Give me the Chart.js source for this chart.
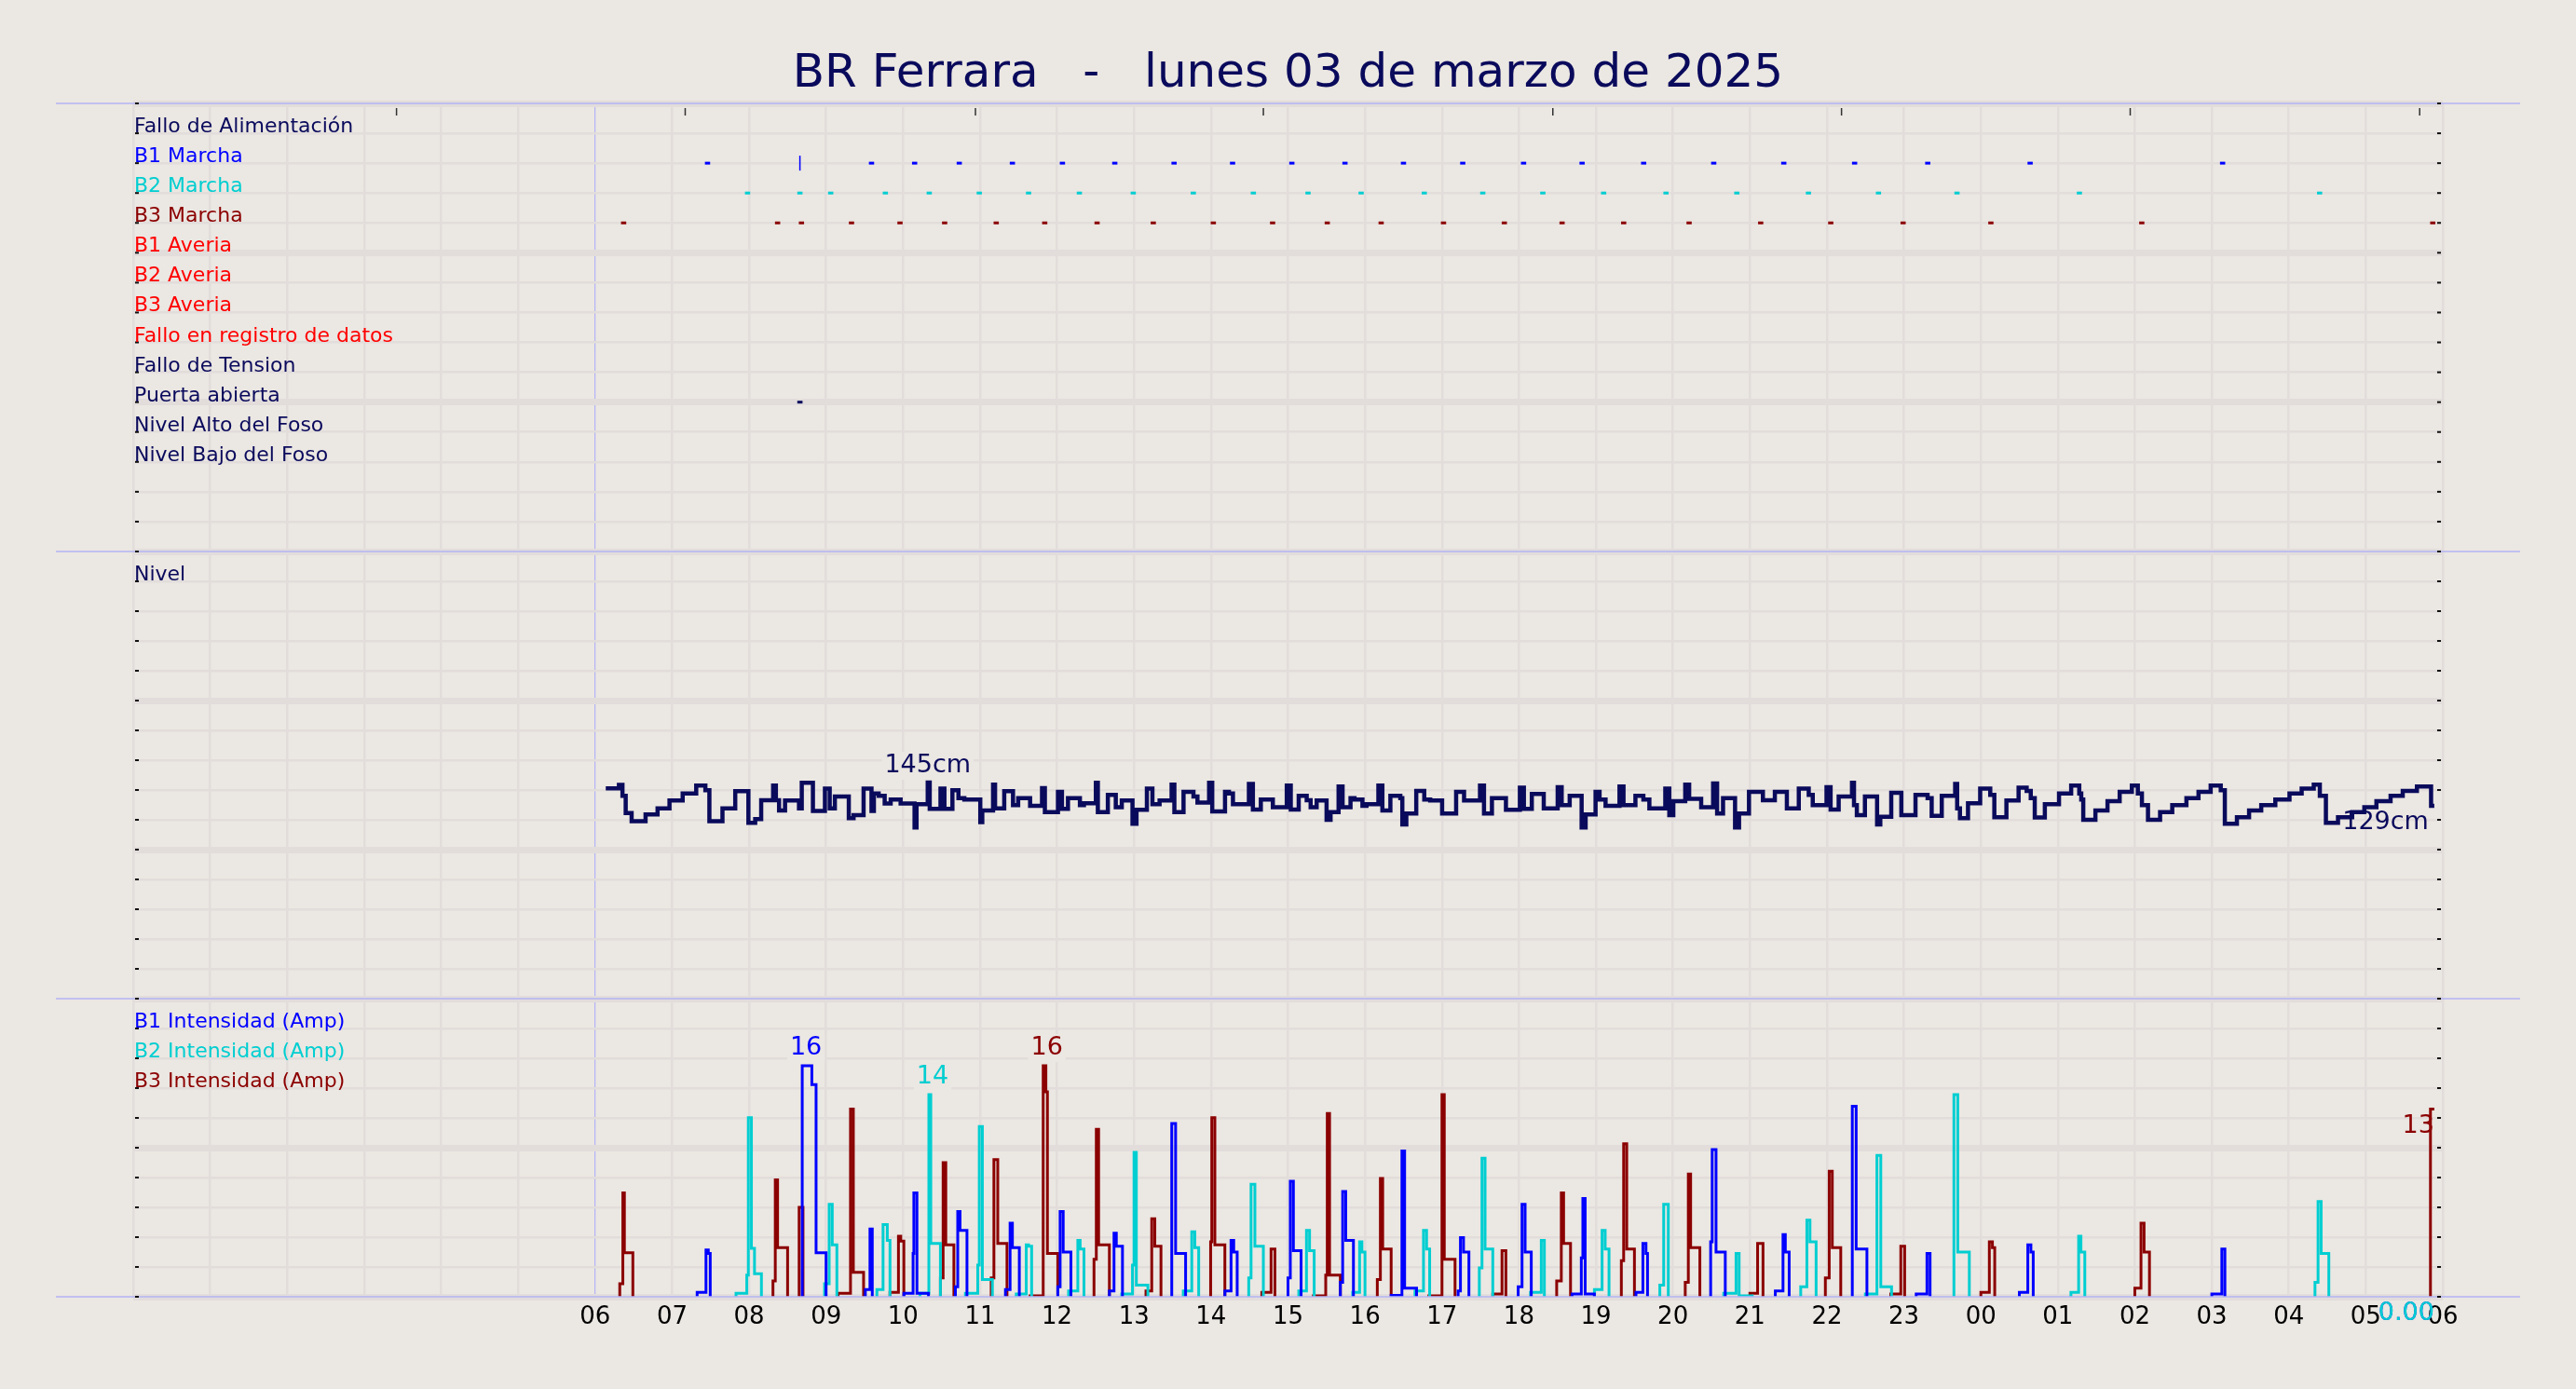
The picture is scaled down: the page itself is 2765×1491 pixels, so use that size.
<!DOCTYPE html>
<html>
<head>
<meta charset="utf-8">
<title>BR Ferrara</title>
<script src="https://cdn.jsdelivr.net/npm/chart.js@4.4.1/dist/chart.umd.min.js"></script>
<style>
  html, body { margin: 0; padding: 0; background: #ebe7e2; }
  canvas { display: block; background: #ebe7e2; }
</style>
</head>
<body>
<canvas id="chart" width="2765" height="1491"></canvas>
<script>
"use strict";

const title = "BR Ferrara   -   lunes 03 de marzo de 2025";

// hours on the x axis run from 0 to 30, labels start at 06
const firstLabelHour = 6;
const hourLabels = ["06", "07", "08", "09", "10", "11", "12", "13", "14", "15", "16", "17", "18",
    "19", "20", "21", "22", "23", "00", "01", "02", "03", "04", "05", "06"];
const topTickHours = [3.42, 7.17, 10.94, 14.68, 18.44, 22.19, 25.94, 29.70];

const eventRows = ["Fallo de Alimentación", "B1 Marcha", "B2 Marcha", "B3 Marcha", "B1 Averia", "B2 Averia",
    "B3 Averia", "Fallo en registro de datos", "Fallo de Tension", "Puerta abierta", "Nivel Alto del Foso",
    "Nivel Bajo del Foso"];

const NAVY = "#0a0a5c";
const BLUE = "#0000ff";
const CYAN = "#00ced1";
const DARKRED = "#8b0000";
const RED = "#ff0000";
const BG = "#ebe7e2";
const GRID = "#e2dddb";
const FRAME = "#b3b3f5";
const FONT = '"DejaVu Sans", sans-serif';

const eventColors = [NAVY, BLUE, CYAN, DARKRED, RED, RED, RED, RED, NAVY, NAVY, NAVY, NAVY];

const b1Marcha = [7.46, 9.59, 10.15, 10.73, 11.42, 12.07, 12.75, 13.52, 14.28, 15.05, 15.74, 16.50, 17.27,
    18.06, 18.82, 19.62, 20.53, 21.44, 22.36, 23.31, 24.64, 27.14];
const b1MarchaSpike = [8.66];
const b2Marcha = [7.98, 8.66, 9.06, 9.77, 10.34, 10.99, 11.63, 12.29, 12.99, 13.77, 14.55, 15.26, 15.95,
    16.77, 17.53, 18.31, 19.10, 19.91, 20.83, 21.76, 22.67, 23.69, 25.28, 28.40];
const b3Marcha = [6.37, 8.37, 8.68, 9.33, 9.96, 10.54, 11.21, 11.84, 12.52, 13.25, 14.03, 14.80, 15.51,
    16.21, 17.02, 17.81, 18.56, 19.36, 20.21, 21.14, 22.05, 22.99, 24.13, 26.09, 29.87];
const puertaAbierta = [8.66];

const levelHours = [
    6.138, 6.309, 6.355, 6.397, 6.474, 6.655, 6.811, 6.966, 7.137, 7.313,
    7.432, 7.484, 7.654, 7.820, 7.991, 8.079, 8.157, 8.312, 8.348, 8.389,
    8.467, 8.648, 8.684, 8.829, 8.985, 9.047, 9.114, 9.295, 9.357, 9.487,
    9.590, 9.621, 9.683, 9.761, 9.839, 9.968, 10.149, 10.175, 10.320, 10.346,
    10.486, 10.537, 10.641, 10.719, 10.796, 11.003, 11.029, 11.169, 11.195, 11.314,
    11.428, 11.495, 11.650, 11.805, 11.842, 12.012, 12.064, 12.142, 12.297, 12.349,
    12.504, 12.530, 12.660, 12.763, 12.841, 12.980, 13.032, 13.167, 13.239, 13.332,
    13.488, 13.524, 13.643, 13.772, 13.824, 13.975, 14.016, 14.182, 14.233, 14.285,
    14.492, 14.544, 14.647, 14.803, 14.984, 15.036, 15.139, 15.243, 15.294, 15.372,
    15.501, 15.553, 15.657, 15.709, 15.812, 15.864, 15.967, 16.019, 16.174, 16.226,
    16.330, 16.459, 16.485, 16.537, 16.666, 16.770, 16.847, 17.002, 17.184, 17.287,
    17.494, 17.546, 17.649, 17.831, 18.012, 18.064, 18.167, 18.322, 18.503, 18.555,
    18.659, 18.814, 18.866, 18.995, 19.047, 19.125, 19.306, 19.358, 19.513, 19.616,
    19.694, 19.901, 19.953, 20.005, 20.160, 20.211, 20.367, 20.522, 20.574, 20.651,
    20.807, 20.859, 20.988, 21.169, 21.324, 21.480, 21.635, 21.764, 21.816, 21.995,
    22.048, 22.153, 22.326, 22.352, 22.389, 22.494, 22.652, 22.694, 22.836, 22.967,
    23.151, 23.308, 23.361, 23.492, 23.666, 23.692, 23.728, 23.833, 23.991, 24.122,
    24.175, 24.332, 24.490, 24.595, 24.648, 24.700, 24.831, 25.015, 25.173, 25.278,
    25.304, 25.330, 25.488, 25.645, 25.803, 25.961, 26.039, 26.092, 26.171, 26.328,
    26.486, 26.670, 26.827, 26.985, 27.116, 27.169, 27.326, 27.484, 27.642, 27.825,
    28.009, 28.167, 28.324, 28.403, 28.482, 28.639, 28.823, 28.981, 29.138, 29.322,
    29.480, 29.664, 29.848, 29.890
];
const levelCm = [
    141.1, 143.4, 136.1, 124.6, 119.0, 123.6, 127.7, 133.0, 137.7, 143.0,
    139.8, 119.0, 127.7, 139.2, 117.9, 120.4, 133.2, 143.0, 133.2, 126.3,
    133.0, 127.7, 144.8, 125.9, 140.9, 127.7, 135.6, 121.1, 123.2, 140.9,
    125.9, 137.7, 136.1, 130.9, 133.6, 130.9, 114.8, 130.4, 145.0, 127.3,
    140.9, 127.3, 139.8, 134.6, 133.6, 118.4, 126.3, 143.6, 127.7, 139.2,
    129.8, 134.6, 129.4, 141.3, 125.2, 138.8, 127.3, 134.6, 129.8, 131.1,
    144.8, 125.2, 136.7, 128.4, 133.0, 117.3, 126.7, 140.9, 130.4, 133.0,
    143.6, 125.2, 138.8, 135.6, 131.5, 144.8, 125.6, 138.8, 137.7, 130.4,
    144.0, 126.9, 133.6, 128.4, 143.0, 126.9, 136.1, 133.2, 128.4, 133.0,
    120.0, 125.2, 142.3, 128.4, 134.6, 133.6, 129.4, 130.4, 143.0, 126.3,
    136.1, 134.6, 116.9, 124.2, 139.4, 133.6, 133.0, 124.2, 138.8, 133.0,
    143.0, 124.2, 134.6, 126.7, 141.5, 127.3, 137.3, 127.7, 141.9, 129.8,
    136.1, 114.8, 123.6, 138.8, 133.6, 129.4, 142.3, 129.8, 136.1, 133.6,
    127.7, 140.9, 123.2, 132.5, 143.6, 134.0, 128.4, 144.4, 124.2, 134.6,
    114.8, 124.2, 138.8, 133.2, 138.8, 127.7, 140.9, 136.7, 129.8, 141.9,
    126.9, 135.6, 144.8, 129.8, 123.2, 135.6, 116.9, 122.1, 138.2, 123.2,
    136.7, 134.6, 122.7, 136.1, 144.0, 127.7, 121.1, 131.1, 140.9, 136.7,
    121.7, 133.0, 141.5, 139.4, 134.6, 121.5, 130.4, 137.7, 143.0, 137.7,
    133.6, 120.0, 126.3, 132.5, 138.8, 143.0, 137.7, 129.8, 120.0, 125.2,
    129.8, 134.6, 138.8, 143.0, 139.8, 117.3, 121.7, 126.3, 129.8, 133.6,
    137.7, 140.9, 143.6, 136.1, 117.9, 121.7, 125.2, 128.4, 132.5, 136.1,
    139.4, 142.3, 129.4, 129.4
];

// pump current, one list of [hour, amps] steps per run
const b1Runs = [
    [[7.325, 0.3], [7.44, 3.25], [7.47, 3.0], [7.495, 0]],
    [[8.69, 16.0], [8.815, 14.7], [8.87, 3.05], [9.0, 0]],
    [[9.51, 0.5], [9.57, 4.7], [9.60, 0]],
    [[10.01, 0.25], [10.13, 3.0], [10.14, 7.2], [10.18, 0.25], [10.33, 0]],
    [[10.68, 0.7], [10.71, 5.9], [10.74, 4.6], [10.83, 0]],
    [[11.33, 0.5], [11.39, 5.1], [11.42, 3.4], [11.51, 0]],
    [[12.01, 0.7], [12.04, 5.9], [12.08, 3.1], [12.18, 0]],
    [[12.68, 0.4], [12.74, 4.4], [12.77, 3.5], [12.85, 0]],
    [[13.49, 12.0], [13.54, 3.0], [13.67, 0]],
    [[14.18, 0.4], [14.26, 3.9], [14.295, 3.1], [14.34, 0]],
    [[15.0, 1.3], [15.03, 8.0], [15.07, 3.2], [15.17, 0]],
    [[15.68, 1.0], [15.71, 7.3], [15.75, 3.9], [15.85, 0]],
    [[16.34, 0.1], [16.48, 10.1], [16.515, 0.6], [16.67, 0]],
    [[17.21, 0.4], [17.24, 4.1], [17.28, 3.1], [17.35, 0]],
    [[17.99, 0.7], [18.04, 6.4], [18.08, 3.1], [18.16, 0]],
    [[18.69, 0.2], [18.81, 2.7], [18.83, 6.8], [18.86, 0.2], [18.98, 0]],
    [[19.52, 0.3], [19.61, 3.7], [19.65, 3.0], [19.67, 0]],
    [[20.49, 3.8], [20.51, 10.2], [20.56, 3.1], [20.68, 0]],
    [[21.33, 0.4], [21.43, 4.3], [21.46, 3.1], [21.51, 0]],
    [[22.33, 13.2], [22.38, 3.3], [22.52, 0]],
    [[23.16, 0.2], [23.30, 3.0], [23.34, 0]],
    [[24.50, 0.3], [24.61, 3.6], [24.65, 3.1], [24.68, 0]],
    [[27.0, 0.2], [27.13, 3.3], [27.17, 0]],
    [[29.89, 0]]
];
const b2Runs = [
    [[7.83, 0.24], [7.97, 1.5], [7.99, 12.4], [8.03, 3.35], [8.07, 1.6], [8.16, 0]],
    [[8.98, 0.9], [9.04, 6.4], [9.08, 3.6], [9.14, 0]],
    [[9.66, 0.5], [9.74, 5.0], [9.795, 3.9], [9.83, 0]],
    [[10.22, 0.25], [10.335, 14.0], [10.36, 3.7], [10.485, 0]],
    [[10.81, 0.25], [10.97, 2.2], [10.99, 11.8], [11.03, 1.2], [11.16, 0]],
    [[11.47, 0.2], [11.60, 3.6], [11.63, 3.5], [11.67, 0]],
    [[12.15, 0.4], [12.27, 3.9], [12.30, 3.3], [12.35, 0]],
    [[12.84, 0.2], [12.98, 2.2], [13.0, 10.0], [13.03, 0.8], [13.18, 0]],
    [[13.64, 0.4], [13.75, 4.5], [13.79, 3.4], [13.84, 0]],
    [[14.49, 1.3], [14.52, 7.8], [14.57, 3.5], [14.68, 0]],
    [[15.14, 0.4], [15.24, 4.6], [15.28, 3.2], [15.34, 0]],
    [[15.84, 0.3], [15.93, 3.8], [15.96, 3.1], [16.0, 0]],
    [[16.65, 0.4], [16.76, 4.6], [16.80, 3.3], [16.84, 0]],
    [[17.485, 2.0], [17.52, 9.6], [17.56, 3.3], [17.66, 0]],
    [[18.15, 0.3], [18.29, 3.9], [18.33, 0]],
    [[18.98, 0.5], [19.08, 4.6], [19.12, 3.3], [19.17, 0]],
    [[19.83, 0.8], [19.88, 6.4], [19.94, 0]],
    [[20.66, 0.25], [20.82, 3.0], [20.86, 0.06], [21.03, 0]],
    [[21.66, 0.7], [21.74, 5.3], [21.78, 3.8], [21.86, 0]],
    [[22.50, 0.2], [22.65, 9.8], [22.70, 0.7], [22.84, 0]],
    [[23.65, 14.0], [23.70, 3.1], [23.85, 0]],
    [[25.17, 0.3], [25.27, 4.2], [25.30, 3.1], [25.35, 0]],
    [[28.34, 1.0], [28.38, 6.6], [28.42, 3.0], [28.52, 0]],
    [[29.89, 0]]
];
const b3Runs = [
    [[6.32, 0.9], [6.36, 7.2], [6.38, 3.05], [6.49, 0]],
    [[8.31, 1.1], [8.34, 8.1], [8.37, 3.4], [8.50, 0]],
    [[8.65, 6.2], [8.70, 0]],
    [[9.155, 0.24], [9.317, 13.0], [9.354, 1.7], [9.487, 0]],
    [[9.83, 0.3], [9.94, 4.2], [9.97, 3.85], [10.01, 0]],
    [[10.485, 1.3], [10.52, 9.3], [10.555, 3.6], [10.66, 0]],
    [[11.145, 1.3], [11.18, 9.5], [11.23, 3.7], [11.35, 0]],
    [[11.65, 0.06], [11.82, 16.0], [11.855, 14.2], [11.875, 3.0], [12.01, 0]],
    [[12.48, 2.6], [12.51, 11.6], [12.54, 3.6], [12.68, 0]],
    [[13.155, 0.4], [13.23, 5.4], [13.27, 3.5], [13.35, 0]],
    [[13.995, 3.8], [14.01, 12.4], [14.05, 3.6], [14.18, 0]],
    [[14.66, 0.3], [14.78, 3.3], [14.83, 0]],
    [[15.33, 0.06], [15.49, 1.5], [15.51, 12.7], [15.54, 1.5], [15.68, 0]],
    [[16.16, 1.2], [16.20, 8.2], [16.23, 3.3], [16.34, 0]],
    [[16.83, 0.06], [17.0, 14.0], [17.03, 2.6], [17.17, 0]],
    [[17.66, 0.2], [17.78, 3.2], [17.83, 0]],
    [[18.49, 1.1], [18.55, 7.2], [18.58, 3.7], [18.67, 0]],
    [[19.33, 2.5], [19.36, 10.6], [19.40, 3.3], [19.50, 0]],
    [[20.16, 1.0], [20.20, 8.5], [20.23, 3.4], [20.35, 0]],
    [[21.0, 0.25], [21.1, 3.7], [21.17, 0]],
    [[21.98, 1.3], [22.03, 8.7], [22.07, 3.4], [22.18, 0]],
    [[22.83, 0.2], [22.96, 3.5], [23.01, 0]],
    [[24.0, 0.3], [24.11, 3.8], [24.15, 3.4], [24.18, 0]],
    [[26.0, 0.6], [26.08, 5.1], [26.12, 3.1], [26.19, 0]],
    [[29.84, 13.0], [29.89, 13.0]]
];

const AMP_MAX = 20.65;
const LEVEL_MAX = 300;

function runsToSteps(runs) {
    const points = [];
    for (const run of runs) {
        points.push({x: run[0][0], y: 0});
        for (const [x, y] of run) {
            points.push({x, y});
        }
        points.push({x: run[run.length - 1][0], y: null});
    }
    return points;
}

function eventDataset(hours, row, color) {
    return {
        yAxisID: "yEv",
        showLine: false,
        data: hours.map(h => ({x: h, y: row})),
        pointStyle: "line",
        pointRadius: 2.8,
        pointBorderWidth: 3,
        pointBorderColor: color,
        pointBackgroundColor: color,
        borderColor: color,
        clip: false
    };
}

function ampDataset(runs, color) {
    return {
        yAxisID: "yAm",
        data: runsToSteps(runs),
        stepped: true,
        spanGaps: false,
        borderColor: color,
        borderWidth: 3,
        pointRadius: 0,
        clip: 0
    };
}

function evenTicks(count, max) {
    return scale => {
        scale.ticks = [];
        for (let i = 0; i <= count; i++) {
            scale.ticks.push({value: max * i / count});
        }
    };
}

function gridOptions() {
    return {
        color: GRID,
        lineWidth: ctx => ctx.index % 5 === 0 ? 7 : 2.5,
        drawTicks: false
    };
}

function yScale(max, weight, stackWeight, reverse) {
    return {
        type: "linear",
        position: "left",
        stack: "panels",
        stackWeight,
        weight,
        min: 0,
        max,
        reverse,
        afterBuildTicks: evenTicks(15, max),
        afterFit: s => { s.width = 0; },
        grid: gridOptions(),
        border: {display: false},
        ticks: {display: false}
    };
}

function lastPoint(data) {
    for (let i = data.length - 1; i >= 0; i--) {
        if (data[i].y !== null) return data[i];
    }
    return null;
}

function maxPoint(data) {
    let best = null;
    for (const p of data) {
        if (p.y !== null && (!best || p.y > best.y)) best = p;
    }
    return best;
}

function drawTag(ctx, text, x, y, align, color, boxed) {
    ctx.font = "27px " + FONT;
    ctx.textAlign = align;
    ctx.textBaseline = "middle";
    if (boxed) {
        const w = ctx.measureText(text).width;
        const left = align === "center" ? x - w / 2 : x - w;
        ctx.fillStyle = BG;
        ctx.fillRect(left - 3, y - 15, w + 6, 30);
    }
    ctx.fillStyle = color;
    ctx.fillText(text, x, y);
}

const overlay = {
    id: "overlay",
    afterDatasetsDraw(chart) {
        const {ctx, chartArea, scales} = chart;
        const {x, yEv, yLv, yAm} = scales;
        ctx.save();

        // panel frame lines
        ctx.strokeStyle = FRAME;
        ctx.lineWidth = 1.5;
        for (const yPix of [yEv.top, yEv.bottom, yLv.bottom, yAm.bottom]) {
            ctx.beginPath();
            ctx.moveTo(chartArea.left - 83, yPix);
            ctx.lineTo(chartArea.right + 83, yPix);
            ctx.stroke();
        }

        // small inner tick marks
        ctx.fillStyle = "#111";
        for (const s of [yEv, yLv, yAm]) {
            for (const t of s.ticks) {
                const py = s.getPixelForValue(t.value);
                ctx.fillRect(chartArea.left + 2, py - 1, 4, 2);
                ctx.fillRect(chartArea.right - 6, py - 1, 4, 2);
            }
        }
        ctx.fillStyle = "#333";
        for (const h of topTickHours) {
            ctx.fillRect(x.getPixelForValue(h) - 0.75, chartArea.top + 5, 1.5, 8);
        }

        // row names
        ctx.font = "22px " + FONT;
        ctx.textAlign = "left";
        ctx.textBaseline = "alphabetic";
        eventRows.forEach((name, i) => {
            ctx.fillStyle = eventColors[i];
            ctx.fillText(name, chartArea.left + 1, yEv.getPixelForValue(i + 1) - 1);
        });
        ctx.fillStyle = NAVY;
        ctx.fillText("Nivel", chartArea.left + 1, yLv.getPixelForValue(LEVEL_MAX - 20) - 1);
        const ampNames = ["B1 Intensidad (Amp)", "B2 Intensidad (Amp)", "B3 Intensidad (Amp)"];
        const ampColors = [BLUE, CYAN, DARKRED];
        ampNames.forEach((name, i) => {
            ctx.fillStyle = ampColors[i];
            ctx.fillText(name, chartArea.left + 1, yAm.getPixelForValue(AMP_MAX * (9 - i) / 10) - 1);
        });

        // value tags
        const level = chart.data.datasets[0].data;
        const lvMax = maxPoint(level);
        const lvLast = lastPoint(level);
        drawTag(ctx, Math.round(lvMax.y) + "cm", x.getPixelForValue(lvMax.x),
            yLv.getPixelForValue(lvMax.y) - 18, "center", NAVY, true);
        drawTag(ctx, Math.round(lvLast.y) + "cm", x.getPixelForValue(lvLast.x) - 6,
            yLv.getPixelForValue(lvLast.y) + 18, "right", NAVY, false);

        [1, 2, 3].forEach(i => {
            const ds = chart.data.datasets[i];
            const m = maxPoint(ds.data);
            const last = lastPoint(ds.data);
            drawTag(ctx, String(Math.round(m.y)), x.getPixelForValue(m.x) + 4,
                yAm.getPixelForValue(m.y) - 19, "center", ds.borderColor, true);
            const text = last.y === 0 ? last.y.toFixed(2) : String(Math.round(last.y));
            drawTag(ctx, text, x.getPixelForValue(last.x), yAm.getPixelForValue(last.y) + 18,
                "right", ds.borderColor, false);
        });

        ctx.restore();
    }
};

const b1Spike = eventDataset(b1MarchaSpike, 2, BLUE);
b1Spike.pointRotation = 90;
b1Spike.pointRadius = 8;
b1Spike.pointBorderWidth = 1.5;

const datasets = [
    {
        yAxisID: "yLv",
        data: levelHours.map((h, i) => ({x: h, y: levelCm[i]})),
        stepped: true,
        borderColor: NAVY,
        borderWidth: 4.5,
        pointRadius: 0
    },
    ampDataset(b1Runs, BLUE),
    ampDataset(b2Runs, CYAN),
    ampDataset(b3Runs, DARKRED),
    eventDataset(b1Marcha, 2, BLUE),
    b1Spike,
    eventDataset(b2Marcha, 3, CYAN),
    eventDataset(b3Marcha, 4, DARKRED),
    eventDataset(puertaAbierta, 10, NAVY)
];

Chart.defaults.font.family = FONT;

new Chart(document.getElementById("chart"), {
    type: "line",
    data: {datasets},
    plugins: [overlay],
    options: {
        responsive: false,
        animation: false,
        devicePixelRatio: 1,
        events: [],
        layout: {padding: {left: 143, right: 143, top: 0, bottom: 0}},
        plugins: {
            legend: {display: false},
            tooltip: {enabled: false},
            title: {
                display: true,
                text: title,
                color: NAVY,
                font: {size: 50, weight: "normal", lineHeight: 1.2},
                padding: {top: 50, bottom: 1}
            }
        },
        scales: {
            x: {
                type: "linear",
                position: "bottom",
                min: 0,
                max: 30,
                afterFit: s => { s.height = 99; },
                grid: {
                    color: ctx => ctx.tick && ctx.tick.value === firstLabelHour ? FRAME : GRID,
                    lineWidth: ctx => ctx.tick && ctx.tick.value === firstLabelHour ? 1.2 : 2.5,
                    drawTicks: false
                },
                border: {display: false},
                ticks: {
                    stepSize: 1,
                    autoSkip: false,
                    maxRotation: 0,
                    minRotation: 0,
                    padding: 7,
                    color: "#000",
                    font: {size: 26},
                    callback: v => v >= firstLabelHour ? hourLabels[v - firstLabelHour] : ""
                }
            },
            yEv: yScale(15, 3, 481, true),
            yLv: yScale(LEVEL_MAX, 2, 480, false),
            yAm: Object.assign(yScale(AMP_MAX, 1, 320, false), {afterBuildTicks: evenTicks(10, AMP_MAX)})
        }
    }
});
</script>
</body>
</html>
